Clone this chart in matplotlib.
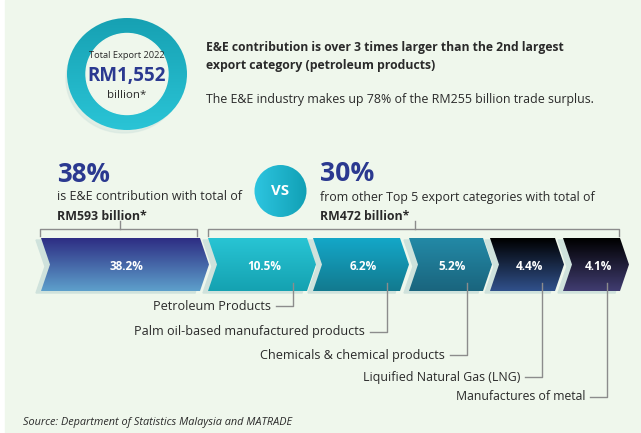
import numpy as np
import matplotlib.pyplot as plt
from matplotlib.patches import Polygon, Ellipse, Circle, Rectangle
from matplotlib.colors import LinearSegmentedColormap

# -----------------------------
# Data
# -----------------------------
shares = [38.2, 10.5, 6.2, 5.2, 4.4, 4.1]
share_labels = ['%.1f%%' % s for s in shares]
categories = ['E&E', 'Petroleum Products', 'Palm oil-based manufactured products',
              'Chemicals & chemical products', 'Liquified Natural Gas (LNG)',
              'Manufactures of metal']
total_export = 'RM1,552'
ee_pct, others_pct = '38%', '30%'
ee_total, others_total = 'RM593 billion*', 'RM472 billion*'

# -----------------------------
# Layout (pixel space)
# -----------------------------
W, H = 641, 433
chev_left = [41, 208, 313, 409, 490, 563]
chev_right = [200, 307, 400, 483, 555, 620]
chev_top, chev_bot = 238, 291
depth = 9
grad_colors = [('#2e2e84', '#5d9fcb'), ('#28c4d4', '#15a2b1'),
               ('#14a7c8', '#127a8f'), ('#2389a6', '#1a657e'),
               ('#000000', '#30508a'), ('#000000', '#403c70')]
label_y = [306, 332, 355, 377, 397]
label_widths = [117, 229, 184, 158, 130]
leader_x = [293, 387, 467, 542, 607]

navy = '#2b3990'
dark = '#2a2a2a'
bg = '#eff7ec'
plt.rcParams['font.family'] = ['Open Sans', 'DejaVu Sans']

fig = plt.figure(figsize=(W / 100, H / 100), dpi=100)
ax = fig.add_axes([0, 0, 1, 1])
ax.set_xlim(0, W)
ax.set_ylim(H, 0)
ax.axis('off')
fig.patch.set_facecolor('white')
ax.add_patch(Rectangle((5, 0), W - 5, H, color=bg, zorder=0))
renderer = fig.canvas.get_renderer()

grad = np.linspace(0, 1, 64).reshape(-1, 1)


def gradient_fill(patch, c0, c1, extent, horizontal=False):
    cmap = LinearSegmentedColormap.from_list('g', [c0, c1])
    arr = grad.T if horizontal else grad
    im = ax.imshow(arr, cmap=cmap, extent=extent, origin='upper',
                   aspect='auto', zorder=patch.get_zorder(), interpolation='bilinear')
    im.set_clip_path(patch)


def fit_text(x, y, s, width, **kw):
    # scale font size so the text spans the given pixel width
    t = ax.text(x, y, s, fontsize=10, va='center', **kw)
    w = t.get_window_extent(renderer).width
    t.set_fontsize(10 * width / w)
    return t


# -----------------------------
# Top: total export ring
# -----------------------------
cx, cy = 127, 74
ax.add_patch(Ellipse((cx - 3, cy + 5), 116, 108, color='#d6e7e0', alpha=0.6, zorder=1))
ring = Ellipse((cx, cy), 120, 112, color='none', zorder=2)
ax.add_patch(ring)
gradient_fill(ring, '#17a1b3', '#2ac4d6', (cx - 60, cx + 60, cy + 56, cy - 56))
ax.add_patch(Ellipse((cx, cy), 82, 81, color=bg, zorder=3))
fit_text(cx, 56, 'Total Export 2022', 76, ha='center', color=dark, zorder=4)
fit_text(cx, 76, total_export, 78, ha='center', fontweight='bold', color=navy, zorder=4)
fit_text(cx, 95, 'billion*', 39, ha='center', color=dark, zorder=4)

fit_text(206, 48, 'E&E contribution is over 3 times larger than the 2nd largest', 360,
         ha='left', fontweight='bold', color=dark)
fit_text(206, 65, 'export category (petroleum products)', 231,
         ha='left', fontweight='bold', color=dark)
fit_text(206, 100, 'The E&E industry makes up 78% of the RM255 billion trade surplus.', 387,
         ha='left', color=dark)

# -----------------------------
# Middle: 38% vs 30%
# -----------------------------
fit_text(57, 174, ee_pct, 53, ha='left', fontweight='bold', color=navy)
fit_text(57, 197, 'is E&E contribution with total of', 184, ha='left', color=dark)
fit_text(57, 216, ee_total, 90, ha='left', fontweight='bold', color=dark)
fit_text(320, 174, others_pct, 54, ha='left', fontweight='bold', color=navy)
fit_text(320, 197, 'from other Top 5 export categories with total of', 275,
         ha='left', color=dark)
fit_text(320, 216, others_total, 89, ha='left', fontweight='bold', color=dark)

vs = Circle((280.5, 191), 26, color='none', zorder=2)
ax.add_patch(vs)
gradient_fill(vs, '#2dc5e0', '#11a0b5', (254, 307, 217, 165), horizontal=True)
fit_text(280.5, 191, 'VS', 18, ha='center', fontweight='bold', color='white', zorder=4)

# brackets
lc = '#8c8c8c'
for x0, x1, xm in [(40, 197, 120), (208, 619, 415)]:
    ax.plot([x0, x0, x1, x1], [236, 229, 229, 236], color=lc, lw=1, zorder=2)
    ax.plot([xm, xm], [229, 221], color=lc, lw=1, zorder=2)

# -----------------------------
# Chevrons
# -----------------------------
ym = (chev_top + chev_bot) / 2
share_fs = None
for i, s in enumerate(share_labels):
    l, r = chev_left[i], chev_right[i]
    pts = [(l, chev_top), (r, chev_top), (r + depth, ym), (r, chev_bot),
           (l, chev_bot), (l + depth, ym)]
    sh = [(x - 5, y + 2) for x, y in pts]
    ax.add_patch(Polygon(sh, closed=True, color='#cfe2dc', zorder=1))
    p = Polygon(pts, closed=True, color='none', zorder=3)
    ax.add_patch(p)
    gradient_fill(p, grad_colors[i][0], grad_colors[i][1],
                  (l, r + depth, chev_bot, chev_top))
    if share_fs is None:
        t = fit_text((l + r + depth) / 2 + 2, 267, s, 34, ha='center',
                     fontweight='bold', color='white', zorder=5)
        share_fs = t.get_fontsize()
    else:
        ax.text((l + r + depth) / 2 + 2, 267, s, ha='center', va='center',
                fontsize=share_fs, fontweight='bold', color='white', zorder=5)

# -----------------------------
# Leader labels
# -----------------------------
for name, lx, ly, lw_ in zip(categories[1:], leader_x, label_y, label_widths):
    ax.plot([lx, lx, lx - 17], [283, ly, ly], color=lc, lw=1, zorder=4)
    fit_text(lx - 22, ly, name, lw_, ha='right', color=dark)

fit_text(23, 423, 'Source: Department of Statistics Malaysia and MATRADE', 270,
         ha='left', style='italic', color=dark)

ax.set_xlim(0, W)
ax.set_ylim(H, 0)
fig.savefig('out.png', dpi=100, facecolor='white')
